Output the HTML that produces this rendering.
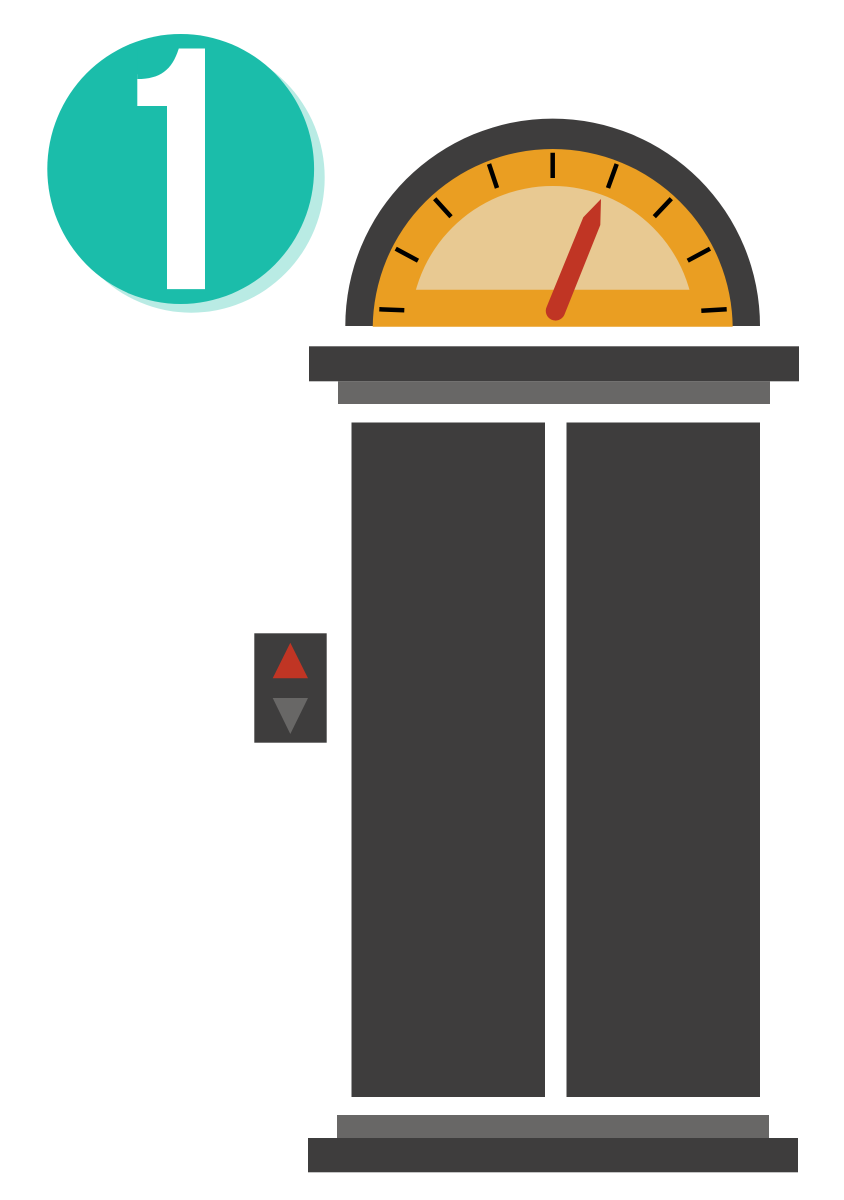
<!DOCTYPE html>
<html><head><meta charset="utf-8"><style>html,body{margin:0;padding:0;background:#fff}svg{display:block}</style></head>
<body>
<svg xmlns="http://www.w3.org/2000/svg" width="844" height="1200" viewBox="0 0 844 1200">
<defs>
<clipPath id="c1"><rect x="340" y="100" width="430" height="226.7"/></clipPath>
<clipPath id="c2"><rect x="340" y="100" width="430" height="189.8"/></clipPath>
<clipPath id="n"><rect x="137.3" y="40" width="29.7" height="66"/><rect x="167" y="40" width="38" height="249.3"/></clipPath>
</defs>
<rect width="844" height="1200" fill="#fff"/>
<ellipse cx="191.3" cy="177.7" rx="133.4" ry="135" fill="#b9ebe4"/>
<ellipse cx="180.7" cy="169" rx="133.4" ry="135" fill="#1bbdaa"/>
<g clip-path="url(#n)"><text transform="translate(101.8 289.3) scale(0.796 1)" font-family="Liberation Sans" font-weight="700" font-size="350" fill="#fff">1</text></g>
<path d="M142 106L172 78V106Z" fill="#fff"/>
<path d="M137.3 79C160 79 172 70 178.7 48.7V47.5H137.3Z" fill="#1bbdaa"/>
<path d="M345.3 326A207.3 207.3 0 0 1 760 326Z" fill="#3e3d3d"/>
<circle cx="552.7" cy="329" r="180" fill="#ea9e22" clip-path="url(#c1)"/>
<circle cx="552.7" cy="328" r="142" fill="#e8c992" clip-path="url(#c2)"/>
<g stroke="#000" stroke-width="4.5" fill="none">
<path d="M552.7 152.7V178M489 164L497 188M434.7 198.7L451 216.7M395.7 248.7L418 260.7M379.3 309.3L404.3 310.3M616.7 164L608 188M671.3 198.7L654.3 216.7M710 248.7L687.7 260.7M726.7 309.3L701.3 310.7"/>
</g>
<path d="M601 199L600.3 225L564.3 315A9.7 9.7 0 0 1 546.7 306.7L583.3 217.3Z" fill="#c03524"/>
<rect x="309" y="346.3" width="490" height="35" fill="#3e3d3d"/>
<rect x="338" y="381.3" width="432" height="22.7" fill="#686766"/>
<rect x="351.5" y="422.5" width="193.5" height="674.5" fill="#3e3d3d"/>
<rect x="566.5" y="422.5" width="193.5" height="674.5" fill="#3e3d3d"/>
<rect x="337" y="1115" width="432" height="23" fill="#686766"/>
<rect x="308" y="1138" width="490" height="34.3" fill="#3e3d3d"/>
<rect x="254.3" y="633.3" width="72.4" height="109.4" fill="#3e3d3d"/>
<path d="M290.3 642.7L308 678.3H272.7Z" fill="#c03524"/>
<path d="M272.7 698H308L290.3 734Z" fill="#686766"/>
</svg>
</body></html>
